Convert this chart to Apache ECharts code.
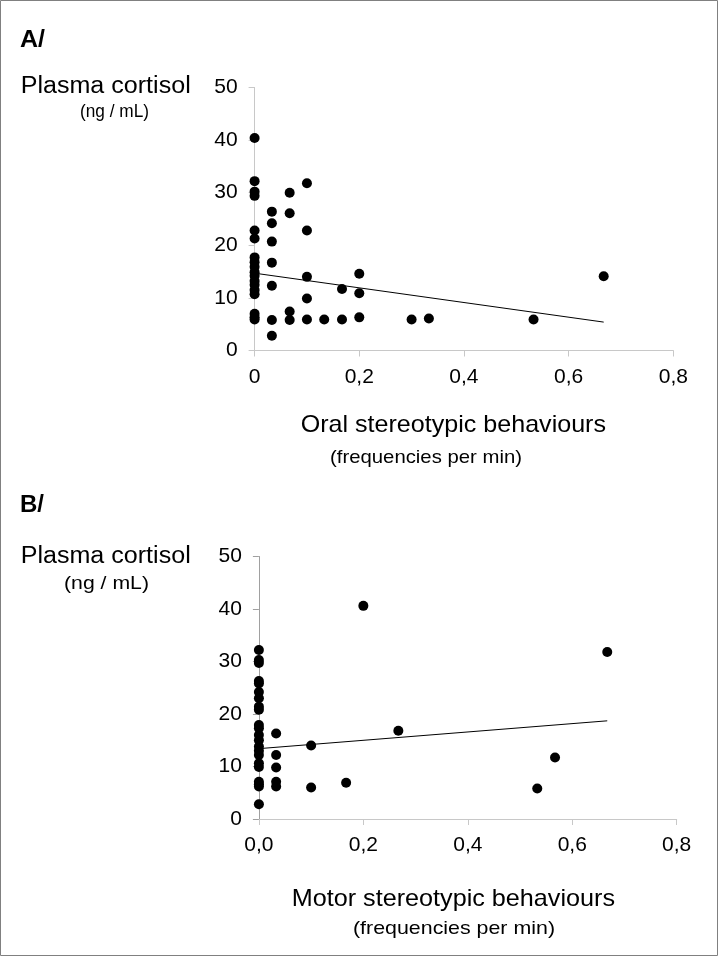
<!DOCTYPE html>
<html>
<head>
<meta charset="utf-8">
<script src="https://cdn.jsdelivr.net/npm/echarts@6/dist/echarts.min.js"></script>
<style>
html,body{margin:0;padding:0;background:#fff;}
#chart{width:718px;height:956px;}
</style>
</head>
<body>
<div id="chart"></div>
<script>
// Panel A: oral stereotypic behaviours (frequency per min) vs plasma cortisol (ng/mL)
var oralFreq = [
  0,0,0,0,0,0,0,0,0,0,0,0,0,0,0,0,0,0,
  0.033,0.033,0.033,0.033,0.033,0.033,0.033,
  0.067,0.067,0.067,0.067,
  0.1,0.1,0.1,0.1,0.1,
  0.133,
  0.167,0.167,
  0.2,0.2,0.2,
  0.3,0.333,0.533,0.667
];
var oralCortisol = [
  40.4,32.2,30.2,29.4,22.8,21.3,17.7,16.8,15.9,14.9,14.2,13.2,12.5,11.5,10.7,7.0,6.3,5.9,
  26.4,24.2,20.7,16.7,12.3,5.8,2.8,
  30.0,26.1,7.4,5.8,
  31.8,22.8,14.0,9.9,5.9,
  5.9,
  11.7,5.9,
  14.6,10.9,6.3,
  5.9,6.1,5.9,14.1
];
var oralTrendX = [0, 0.667];
var oralTrendY = [14.7, 5.4];

// Panel B: motor stereotypic behaviours vs plasma cortisol
var motorFreq = [
  0,0,0,0,0,0,0,0,0,0,0,0,0,0,0,0,0,0,0,0,0,0,
  0.033,0.033,0.033,0.033,0.033,
  0.1,0.1,
  0.167,0.2,0.267,0.533,0.567,0.667
];
var motorCortisol = [
  32.2,30.3,29.7,26.3,25.8,24.2,23.0,21.4,20.8,17.9,17.3,16.0,15.0,13.8,13.0,12.2,10.6,9.9,7.1,6.6,6.2,2.8,
  16.3,12.2,9.8,7.1,6.2,
  14.0,6.0,
  6.9,40.6,16.8,5.8,11.7,31.8
];
var motorTrendX = [0, 0.667];
var motorTrendY = [13.4, 18.7];

var xTicksA = {min: 0, max: 0.8, interval: 0.2};
var yTicks = {min: 0, max: 50, interval: 10};

function pairs(xs, ys){ return xs.map(function(x,i){ return [x, ys[i]]; }); }

var FONT = '"Liberation Sans", Arial, sans-serif';
var ctx = document.createElement('canvas').getContext('2d');
function fitText(text, left, right, midY, size, weight){
  ctx.font = (weight||'normal') + ' ' + size + 'px ' + FONT;
  var w = ctx.measureText(text).width;
  var s = (right - left) / w;
  return {
    type: 'text', x: left, y: midY, scaleX: s, z: 10,
    style: {text: text, fontSize: size, fontFamily: FONT, fontWeight: weight||'normal',
            fill: '#000', textAlign: 'left', textVerticalAlign: 'middle'}
  };
}

var lightAxis = '#c8c8c8';
function xAxisCfg(gi, zeroLabel){
  return {
    gridIndex: gi, type: 'value', min: xTicksA.min, max: xTicksA.max, interval: xTicksA.interval,
    axisLine: {show: true, onZero: false, lineStyle: {color: lightAxis, width: 1}},
    axisTick: {show: true, length: 6, lineStyle: {color: lightAxis}},
    splitLine: {show: false},
    axisLabel: {fontSize: 21, fontFamily: FONT, color: '#000', margin: 16,
      formatter: function(v){ if (v === 0) return zeroLabel; return v.toFixed(1).replace('.', ','); }}
  };
}
function yAxisCfg(gi, lineColor){
  return {
    gridIndex: gi, type: 'value', min: yTicks.min, max: yTicks.max, interval: yTicks.interval,
    axisLine: {show: true, onZero: false, lineStyle: {color: lineColor, width: 1}},
    axisTick: {show: true, length: 6, lineStyle: {color: lineColor}},
    splitLine: {show: false},
    axisLabel: {fontSize: 21, fontFamily: FONT, color: '#000', margin: 17}
  };
}

var chart = echarts.init(document.getElementById('chart'), null, {renderer: 'canvas'});
chart.setOption({
  backgroundColor: '#fff',
  animation: false,
  grid: [
    {left: 254.6, top: 87.5, width: 418.7, height: 263, outerBoundsMode: 'none', containLabel: false},
    {left: 258.9, top: 556.5, width: 417.8, height: 262.5, outerBoundsMode: 'none', containLabel: false}
  ],
  xAxis: [xAxisCfg(0, '0'), xAxisCfg(1, '0,0')],
  yAxis: [yAxisCfg(0, lightAxis), yAxisCfg(1, '#a0a0a0')],
  series: [
    {type: 'line', xAxisIndex: 0, yAxisIndex: 0, data: pairs(oralTrendX, oralTrendY),
     symbol: 'none', silent: true, lineStyle: {color: '#000', width: 1}, z: 1},
    {type: 'scatter', xAxisIndex: 0, yAxisIndex: 0, data: pairs(oralFreq, oralCortisol),
     symbolSize: 10, itemStyle: {color: '#000', opacity: 1}, z: 2},
    {type: 'line', xAxisIndex: 1, yAxisIndex: 1, data: pairs(motorTrendX, motorTrendY),
     symbol: 'none', silent: true, lineStyle: {color: '#000', width: 1}, z: 1},
    {type: 'scatter', xAxisIndex: 1, yAxisIndex: 1, data: pairs(motorFreq, motorCortisol),
     symbolSize: 10, itemStyle: {color: '#000', opacity: 1}, z: 2}
  ],
  graphic: [
    {type: 'rect', shape: {x: 0.5, y: 0.5, width: 717, height: 955}, style: {fill: 'none', stroke: '#808080', lineWidth: 1}, z: 0, silent: true},
    fitText('A/', 20, 45, 41, 23, 'bold'),
    fitText('Plasma cortisol', 20.7, 190.7, 87, 23),
    fitText('(ng / mL)', 80, 149, 112, 19),
    fitText('Oral stereotypic behaviours', 300.7, 606, 425.5, 24),
    fitText('(frequencies per min)', 330, 522, 458, 19),
    fitText('B/', 20, 44, 506, 23, 'bold'),
    fitText('Plasma cortisol', 20.7, 190.7, 557, 23),
    fitText('(ng / mL)', 64, 149, 584, 19),
    fitText('Motor stereotypic behaviours', 291.7, 615, 899, 24),
    fitText('(frequencies per min)', 353, 555, 929, 19)
  ]
});
</script>
</body>
</html>
